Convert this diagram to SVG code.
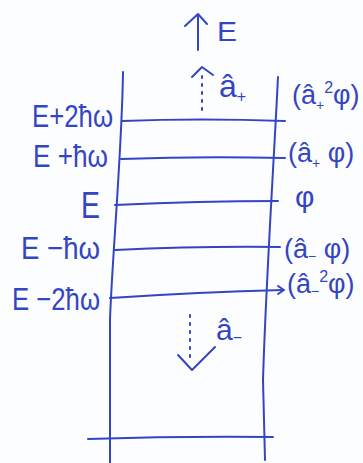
<svg xmlns="http://www.w3.org/2000/svg" width="363" height="463" viewBox="0 0 363 463">
<style>
.ln{fill:none;stroke:#3445c2;stroke-width:2;stroke-linecap:round;stroke-linejoin:round}
.dot{fill:none;stroke:#3445c2;stroke-width:2;stroke-linecap:round;stroke-dasharray:2 6}
text{font-family:"Liberation Sans",Arial,sans-serif;fill:#3445c2}
.lbl{font-size:32px}
.st{font-size:27px}
</style>
<rect width="363" height="463" fill="#fcfdff"/>
<g id="frame">
<path class="ln" d="M123,72 C122,150 112,260 110,320 L110,463"/>
<path class="ln" d="M278,77 C274,160 266,280 263,380 L265,460"/>
<path class="ln" d="M88,439 Q180,436 273,437"/>
</g>
<g id="level-2up">
<path class="ln" d="M122,121 Q200,118 285,121"/>
<text class="lbl" x="32" y="127" textLength="81" lengthAdjust="spacingAndGlyphs">E+2ħω</text>
<text class="st" x="292" y="104">(â<tspan dy="6" font-size="14">+</tspan><tspan dy="-17" font-size="16">2</tspan><tspan dy="11">φ)</tspan></text>
</g>
<g id="level-1up">
<path class="ln" d="M121,159 Q200,156 285,158"/>
<text class="lbl" x="33" y="167" textLength="75" lengthAdjust="spacingAndGlyphs">E +ħω</text>
<text class="st" x="288" y="162">(â<tspan dy="6" font-size="14">+</tspan><tspan dy="-6"> φ)</tspan></text>
</g>
<g id="level-0">
<path class="ln" d="M115,205 Q200,201 278,201"/>
<text class="lbl" x="81" y="218" textLength="19" lengthAdjust="spacingAndGlyphs" style="font-size:36px">E</text>
<text x="295" y="207" style="font-size:30px">φ</text>
</g>
<g id="level-1down">
<path class="ln" d="M115,250 Q200,246 280,247"/>
<text class="lbl" x="21" y="259" textLength="79" lengthAdjust="spacingAndGlyphs">E −ħω</text>
<text class="st" x="284" y="258">(â<tspan dy="3" font-size="14">−</tspan><tspan dy="-3"> φ)</tspan></text>
</g>
<g id="level-2down">
<path class="ln" d="M110,298 Q200,292 283,290"/>
<text class="lbl" x="12" y="310" textLength="88" lengthAdjust="spacingAndGlyphs">E −2ħω</text>
<text class="st" x="287" y="293">(â<tspan dy="3" font-size="14">−</tspan><tspan dy="-14" font-size="16">2</tspan><tspan dy="11">φ)</tspan></text>
</g>
<g id="connectors">
<path class="ln" d="M278,286 L284,290 L278,294"/>
<path class="ln" d="M198,50 L198,15 M185,26 L198,14 L207,24"/>
<path class="dot" d="M202,110 L202,72"/>
<path class="ln" d="M192,77 L202,67 L213,75"/>
<path class="dot" d="M190,315 L190,358"/>
<path class="ln" d="M178,355 L192,370 L215,347"/>
</g>
<g id="labels">
<text x="217" y="41" style="font-size:28px" textLength="20" lengthAdjust="spacingAndGlyphs">E</text>
<text x="219" y="97" style="font-size:32px">â<tspan dy="5" font-size="16">+</tspan></text>
<text x="216" y="340" style="font-size:30px">â<tspan dy="3" font-size="16">−</tspan></text>
</g>
</svg>
